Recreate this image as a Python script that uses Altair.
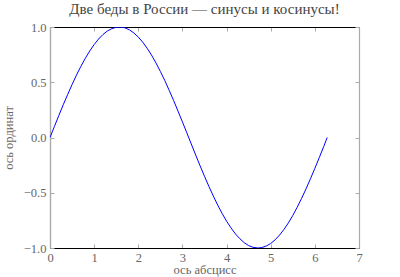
import altair as alt
import pandas as pd

x_vals = [0.0, 0.1, 0.2, 0.3, 0.4, 0.5, 0.6, 0.7, 0.8, 0.9, 1.0, 1.1, 1.2, 1.3, 1.4, 1.5, 1.57,
          1.6, 1.7, 1.8, 1.9, 2.0, 2.1, 2.2, 2.3, 2.4, 2.5, 2.6, 2.7, 2.8, 2.9, 3.0, 3.1,
          3.2, 3.3, 3.4, 3.5, 3.6, 3.7, 3.8, 3.9, 4.0, 4.1, 4.2, 4.3, 4.4, 4.5, 4.6, 4.71,
          4.8, 4.9, 5.0, 5.1, 5.2, 5.3, 5.4, 5.5, 5.6, 5.7, 5.8, 5.9, 6.0, 6.1, 6.2, 6.28]
y_vals = [0.0, 0.1, 0.199, 0.296, 0.389, 0.479, 0.565, 0.644, 0.717, 0.783, 0.841, 0.891,
          0.932, 0.964, 0.985, 0.997, 1.0, 1.0, 0.992, 0.974, 0.946, 0.909, 0.863, 0.808,
          0.746, 0.675, 0.598, 0.516, 0.427, 0.335, 0.239, 0.141, 0.042,
          -0.058, -0.158, -0.256, -0.351, -0.443, -0.53, -0.612, -0.688, -0.757, -0.818,
          -0.872, -0.916, -0.952, -0.978, -0.994, -1.0,
          -0.996, -0.982, -0.959, -0.926, -0.883, -0.832, -0.773, -0.706, -0.631, -0.551,
          -0.465, -0.374, -0.279, -0.182, -0.083, 0.0]

x_ticks = [0, 1, 2, 3, 4, 5, 6, 7]
y_ticks = [-1.0, -0.5, 0.0, 0.5, 1.0]

title_text = "Две беды в России — синусы и косинусы!"
x_title = "ось абсцисс"
y_title = "ось ординат"

df = pd.DataFrame({"x": x_vals, "y": y_vals})

W, H = 309, 221
FONT = "Liberation Serif"
TXT = "#666666"
GRAY = "#aaaaaa"

xs = alt.Scale(domain=[0, 7], nice=False, zero=False)
ys = alt.Scale(domain=[-1, 1], nice=False, zero=False)

base = alt.Chart(df)

line = base.mark_line(color="#0000ff", strokeWidth=1.0, clip=True).encode(
    x=alt.X("x:Q", scale=xs, title=x_title,
            axis=alt.Axis(values=x_ticks, format="d", tickSize=0, labelPadding=3,
                          labelFlush=False, labelOverlap=False,
                          domainColor="black", domainWidth=1.2, grid=False,
                          labelColor=TXT, titleColor=TXT, labelFont=FONT, titleFont=FONT,
                          labelFontSize=12.5, titleFontSize=12.5, titleFontWeight="normal",
                          titlePadding=0)),
    y=alt.Y("y:Q", scale=ys, title=y_title,
            axis=alt.Axis(values=y_ticks, format=".1f", tickSize=0, labelPadding=4,
                          labelFlush=False, labelOverlap=False,
                          domainColor=GRAY, domainWidth=1.2, grid=False,
                          labelColor=TXT, titleColor=TXT, labelFont=FONT, titleFont=FONT,
                          labelFontSize=12.5, titleFontSize=12.5, titleFontWeight="normal",
                          titlePadding=8)),
)

t_bottom = base.mark_point(opacity=0).encode(
    x=alt.X("x:Q", scale=xs, title=None,
            axis=alt.Axis(orient="top", offset=-H, values=x_ticks, labels=False, tickSize=4,
                          tickColor=GRAY, domainColor="black", domainWidth=1.2, grid=False)),
    y=alt.Y("y:Q", scale=ys, title=None,
            axis=alt.Axis(orient="right", offset=-W, values=y_ticks, labels=False, tickSize=4,
                          tickColor=GRAY, domainColor=GRAY, domainWidth=1.2, grid=False)),
)

t_top = base.mark_point(opacity=0).encode(
    x=alt.X("x:Q", scale=xs, title=None,
            axis=alt.Axis(orient="bottom", offset=-H, values=x_ticks, labels=False, tickSize=4,
                          tickColor=GRAY, domainColor="black", domainWidth=1.2, grid=False)),
    y=alt.Y("y:Q", scale=ys, title=None,
            axis=alt.Axis(orient="left", offset=-W, values=y_ticks, labels=False, tickSize=4,
                          tickColor=GRAY, domainColor=GRAY, domainWidth=1.2, grid=False)),
)

chart = alt.layer(t_bottom, t_top, line).properties(
    width=W, height=H,
    title=alt.TitleParams(title_text, font=FONT, fontSize=15, fontWeight="normal",
                          color="#444444", offset=4, anchor="middle"),
    autosize=alt.AutoSizeParams(type="none"),
    padding={"left": 50, "top": 27, "right": 41, "bottom": 29},
).configure_view(stroke=None)

chart.save("out.html", embed_options={"renderer": "svg", "actions": False})
